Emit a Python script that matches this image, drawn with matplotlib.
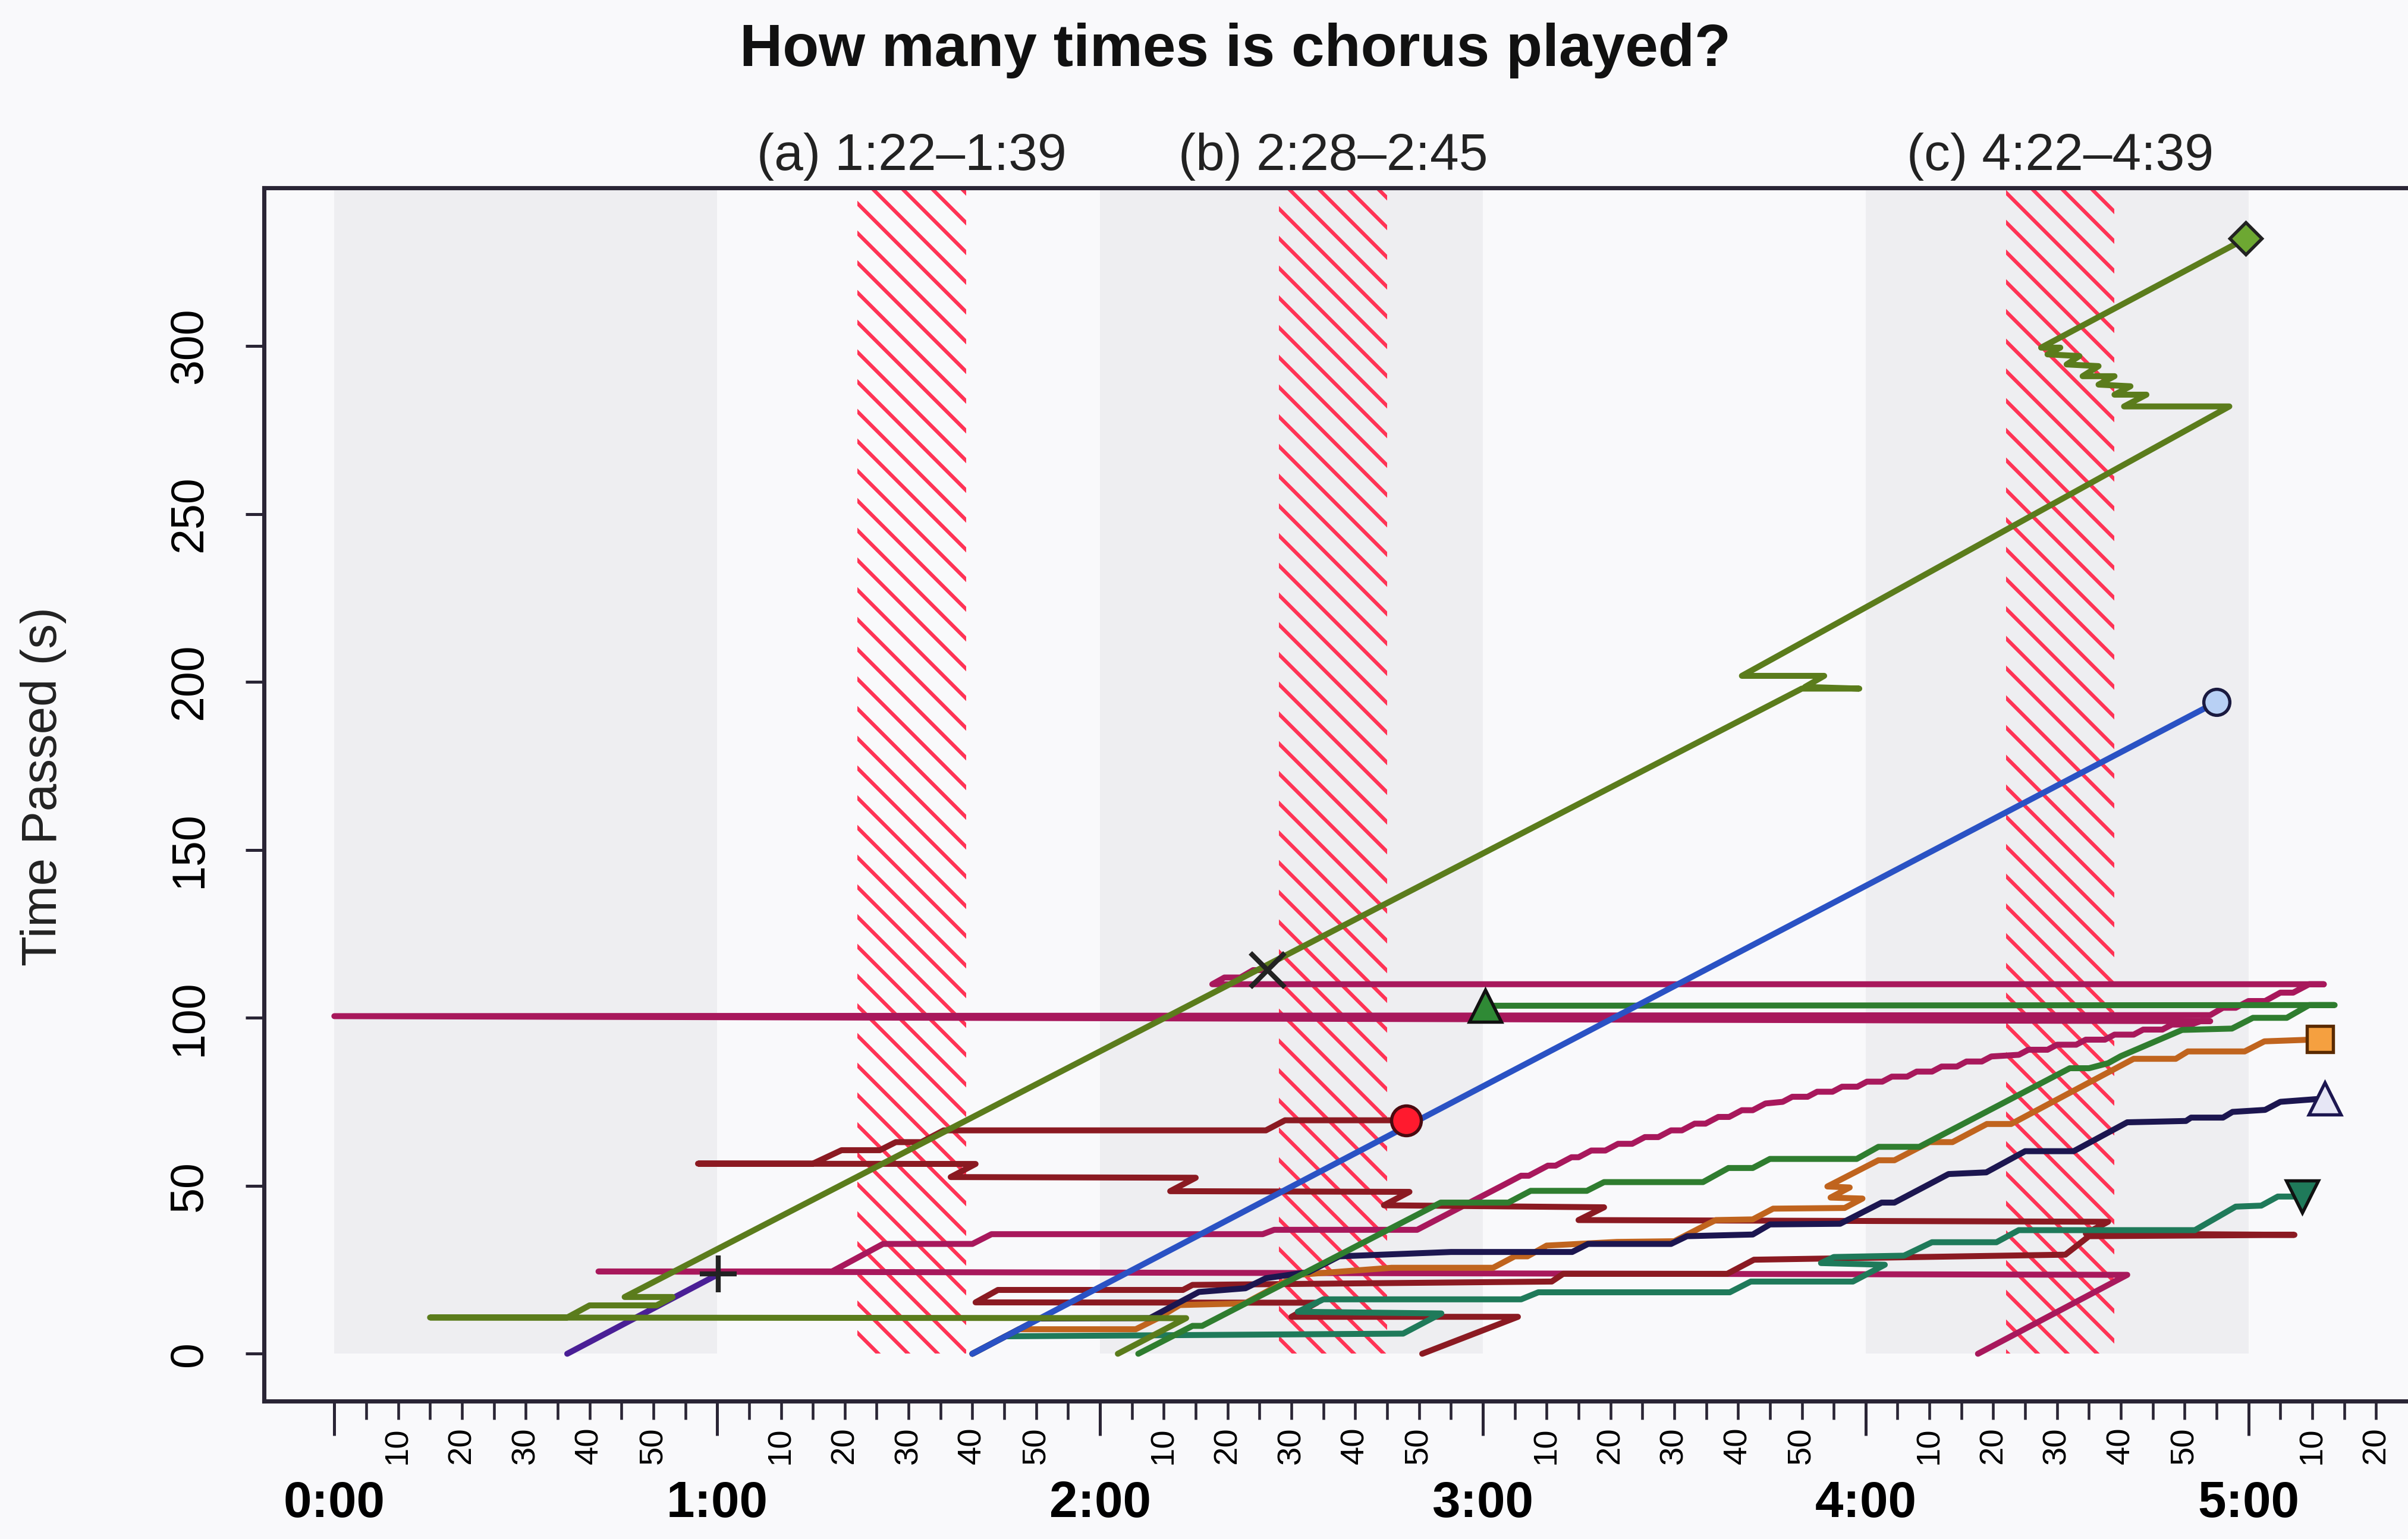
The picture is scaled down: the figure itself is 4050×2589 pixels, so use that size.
import matplotlib
matplotlib.use("Agg")
import matplotlib.pyplot as plt
from matplotlib.patches import Rectangle
from matplotlib.transforms import blended_transform_factory

plt.rcParams['font.family'] = ['Liberation Sans', 'DejaVu Sans']
plt.rcParams['hatch.linewidth'] = 1.5

# song structure (seconds)
gray_bands = [(0, 60), (120, 180), (240, 300)]
chorus_start = [82, 148, 262]
chorus_end = [99, 165, 279]
chorus_labels = ["(a) 1:22\u20131:39", "(b) 2:28\u20132:45", "(c) 4:22\u20134:39"]

minute_ticks = [0, 60, 120, 180, 240, 300]
minute_labels = ["0:00", "1:00", "2:00", "3:00", "4:00", "5:00"]
y_ticks = [0, 50, 100, 150, 200, 250, 300]

# listener paths: (song position, time passed)
olive_path = [(122.8, 0), (133.5, 10.6), (15, 10.8), (36.5, 10.8), (40, 14.4), (50.5, 14.4),
              (53, 16.9), (45.5, 16.9), (230, 198), (239, 198), (230.5, 198.5), (233.5, 201.8),
              (220.6, 201.8), (297, 282), (280.5, 282), (284, 285.5), (279, 285.5), (281.5, 288),
              (276.5, 288.5), (279, 291), (274, 291), (276.5, 294), (271.5, 294.5), (273.5, 297),
              (268.5, 297.5), (270.5, 299.5), (267.5, 299.5), (299.6, 332)]

blue_path = [(100, 0), (295, 194)]

indigo_path = [(36.5, 0), (60.2, 23.7)]

magenta_path = [(257.6, 0), (281, 23.5), (41.4, 24.5), (78, 24.5), (86, 32.7), (100, 32.7),
                (103, 35.6), (145.5, 35.6), (147.3, 36.9), (169.7, 36.9), (183, 50), (186, 53),
                (187.2, 53), (190.2, 56), (191.4, 56), (193.9, 58.5), (195, 58.5), (197, 60.5),
                (199.2, 60.5), (201.2, 62.5), (203.4, 62.5), (205.4, 64.5), (207.5, 64.5),
                (209.5, 66.5), (211.2, 66.5), (213.2, 68.5), (214.9, 68.5), (216.9, 70.5),
                (218.6, 70.5), (220.6, 72.5), (222.3, 72.5), (224.3, 74.5), (227, 75),
                (228.5, 76.5), (230.9, 76.5), (232.4, 78), (234.8, 78), (236.3, 79.5),
                (238.7, 79.5), (240.2, 81), (242.6, 81), (244.1, 82.5), (246.5, 82.5), (248, 84),
                (250.4, 84), (251.9, 85.5), (254.3, 85.5), (255.8, 87), (258.2, 87),
                (259.7, 88.5), (264, 89), (265.5, 90.5), (268.5, 90.5), (270, 92), (273, 92),
                (274.5, 93.5), (277.5, 93.5), (279, 95), (282, 95), (283.5, 96.5), (286.5, 96.5),
                (288, 98), (291, 98), (292.5, 99), (294, 99), (0, 100.5), (294, 100.8),
                (296, 103), (298, 103), (300, 105), (302.6, 105), (305, 107.5), (307, 107.5),
                (309.5, 110), (311.8, 110), (137.6, 110), (139.5, 112), (142, 112), (144, 114.2),
                (146.3, 114.2)]

green_path = [(126, 0), (134.5, 8.3), (136, 8.3), (173.4, 45), (184, 45), (187.5, 48.5),
              (196.3, 48.5), (199, 51.1), (214.5, 51.1), (218.5, 55.3), (222.3, 55.3), (225, 58),
              (238.6, 58), (242, 61.6), (248.4, 61.6), (272, 85), (275, 85), (278, 86.5),
              (280, 88.6), (289.6, 96.4), (297.4, 96.8), (300.7, 100), (306, 100),
              (309.5, 103.8), (313.5, 103.8), (180.4, 103.6)]

teal_path = [(100, 0), (105.2, 5.2), (167.5, 6), (173.5, 12), (151, 12.5), (155, 16.2),
             (186, 16.2), (188.7, 18.3), (218.7, 18.3), (222, 21.5), (238, 21.5), (243, 26.5),
             (233, 27), (235, 28.8), (246, 29.2), (250.4, 33.2), (260.5, 33.2), (264, 36.8),
             (291.6, 36.8), (298, 43.8), (302, 44.1), (304.6, 46.8), (308.4, 46.8)]

orange_path = [(100, 0), (107.3, 7.3), (125.6, 7.3), (129, 10.5), (132.5, 14.5), (142.7, 15),
               (151, 23.5), (165.7, 25.6), (181.6, 25.6), (185, 29), (187, 29), (190, 32.2),
               (201, 33.3), (210, 33.5), (214, 37.4), (216.5, 39.8), (222.3, 40), (225.5, 43.2),
               (236.7, 43.4), (239.5, 46.2), (234.5, 46.5), (237.5, 49.5), (234, 49.8),
               (242, 57.6), (244.5, 57.6), (250, 63), (253.6, 63), (259, 68.4), (262.8, 68.4),
               (282, 87.8), (288.6, 87.8), (290.5, 90), (299.4, 90), (302.5, 93), (311.2, 93.6)]

navy_path = [(100, 0), (110.5, 10.5), (127.8, 10.6), (135.5, 18.4), (142.8, 19.5), (146, 22.5),
             (152.7, 24.3), (157.5, 29), (175, 30.3), (194, 30.3), (196.5, 32.7), (209.5, 32.7),
             (212, 35), (222.3, 35.5), (225, 38.5), (236, 38.7), (242.5, 45), (244.5, 45),
             (253, 53.5), (258.9, 54), (265, 60.3), (272.6, 60.3), (281, 68.9), (290.2, 69.3),
             (291, 70.3), (296, 70.3), (297.5, 72), (302.6, 72.6), (305, 75), (312, 76)]

darkred_path = [(170.5, 0), (185.5, 11), (150, 11), (154, 15.2), (100.5, 15.3), (104, 19),
                (133, 19), (134.5, 20.5), (190.8, 21.5), (192.6, 23.8), (218.3, 23.8),
                (222.5, 28), (271.3, 29.5), (275, 35), (307.2, 35.4), (274.5, 35.8), (278, 39.3),
                (195, 39.8), (199, 43.6), (164.5, 44.2), (168.5, 48.2), (131, 48.4), (135, 52.4),
                (96.6, 52.6), (100.5, 56.5), (57, 56.6), (75, 56.6), (79.5, 60.6), (85.5, 60.6),
                (88, 63), (92, 63), (95.5, 66.5), (146, 66.5), (149, 69.5), (168, 69.5)]

# path, line colour, end marker, marker face, marker edge, marker size
listeners = [
    (magenta_path, "#a8185c", "x", "#222222", "#222222", 14),
    (darkred_path, "#8b1a22", "o", "#ff1a2e", "#4a0a10", 12),
    (teal_path, "#1f7a5a", "v", "#1f7a5a", "#111111", 13),
    (orange_path, "#c0641e", "s", "#f5a040", "#5a2a00", 10.5),
    (navy_path, "#1c1650", "^", "#e6e6f5", "#1c1650", 13),
    (green_path, "#2f7d2f", "^", "#2f8a35", "#111111", 13),
    (indigo_path, "#4a1f96", "+", "#222222", "#222222", 15),
    (blue_path, "#2a52c4", "o", "#b8d0f4", "#1a1a40", 10.5),
    (olive_path, "#5b7c1c", "D", "#6da832", "#222222", 9),
]

bg = "#f9f9fb"
fig = plt.figure(figsize=(13.5, 8.63), dpi=300, facecolor=bg)
ax = fig.add_axes([0.1097, 0.0898, 0.8903, 0.788], facecolor=bg)
ax.set_xlim(-11, 325)
ax.set_ylim(-14, 347)

for s, e in gray_bands:
    ax.add_patch(Rectangle((s, 0), e - s, 400, facecolor="#eeeef1", edgecolor="none", zorder=0))

for s, e in zip(chorus_start, chorus_end):
    ax.add_patch(Rectangle((s, 0), e - s, 400, fill=False, edgecolor="#ff3355", linewidth=0,
                           hatch="\\\\", zorder=1))

trans = blended_transform_factory(ax.transData, ax.transAxes)
for s, e, lab in zip(chorus_start, chorus_end, chorus_labels):
    ax.text((s + e) / 2, 1.006, lab, transform=trans, ha="center", va="bottom",
            fontsize=21, color="#222222")

for path, col, mk, fc, ec, ms in listeners:
    xs = [p[0] for p in path]
    ys = [p[1] for p in path]
    ax.plot(xs, ys, color=col, lw=2.4, solid_joinstyle="round", solid_capstyle="round", zorder=3)
    ax.plot(xs[-1], ys[-1], marker=mk, markersize=ms, markerfacecolor=fc, markeredgecolor=ec,
            markeredgewidth=1.3 if mk not in "x+" else 2.0, linestyle="none", zorder=5)

# axes in base-graphics style
for side in ["left", "top", "bottom"]:
    ax.spines[side].set_color("#2a2535")
    ax.spines[side].set_linewidth(1.7)
ax.spines["right"].set_visible(False)

ax.set_yticks(y_ticks)
ax.set_yticklabels([str(v) for v in y_ticks], rotation=90, va="center", fontsize=18.5)
ax.tick_params(axis="y", length=7.4, width=1.2, pad=14, color="#2a2535")

minor_pos = [p for p in range(5, 321, 5) if p % 60 != 0]
minor_lab = [str(p % 60) if p % 10 == 0 else "" for p in minor_pos]
ax.set_xticks(minute_ticks)
ax.set_xticklabels(minute_labels, fontsize=20.5, fontweight="bold")
ax.set_xticks(minor_pos, minor=True)
ax.set_xticklabels(minor_lab, minor=True, rotation=90, fontsize=13.5)
ax.tick_params(axis="x", which="major", length=14, width=1.2, pad=18, color="#2a2535")
ax.tick_params(axis="x", which="minor", length=7.5, width=1.1, pad=3, color="#2a2535")

fig.text(0.513, 0.967, "How many times is chorus played?", ha="center", va="center",
         fontsize=24, fontweight="bold", color="#111111")
fig.text(0.018, 0.489, "Time Passed (s)", ha="center", va="center", rotation=90,
         fontsize=20, color="#222222")

fig.savefig("out.png", dpi=300, facecolor=bg)
